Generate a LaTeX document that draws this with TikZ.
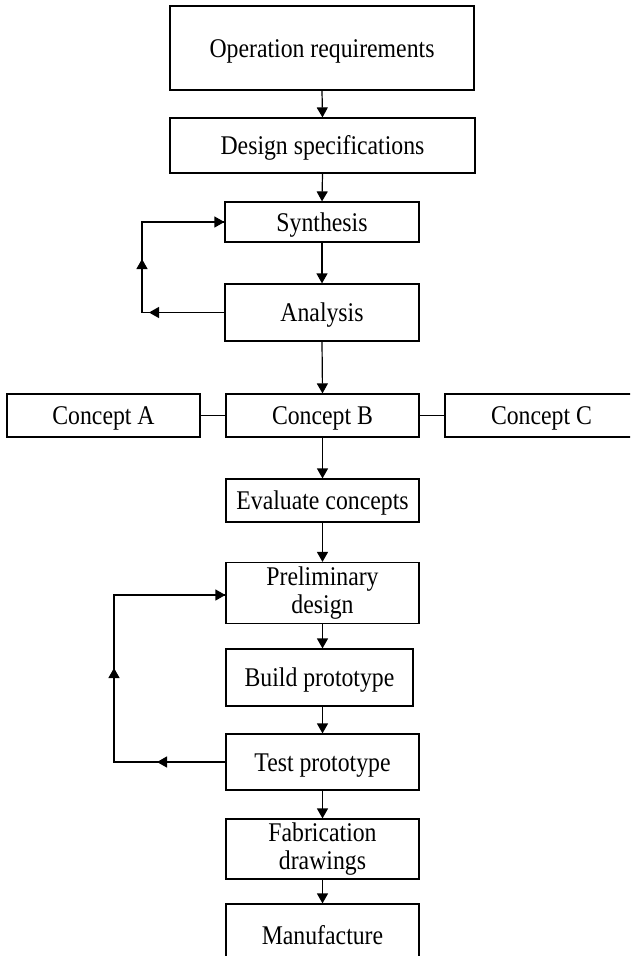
\documentclass[tikz,border=0pt]{standalone}
\usepackage{fontspec}
\setmainfont[FakeStretch=0.88]{Liberation Serif}
\usetikzlibrary{arrows.meta}
\begin{document}
\begin{tikzpicture}[x=1pt,y=-1pt,
  box/.style={draw, line width=1.2pt, inner sep=0pt, align=center, font=\fontsize{27}{28.5}\selectfont},
  one/.style={text height=18pt, text depth=0pt},
  arr/.style={line width=1.2pt, -{Triangle[length=10pt,width=11pt]}},
  ln/.style={line width=1.2pt}]
\useasboundingbox (0,0) rectangle (630,956);
\clip (0,0) rectangle (630,956);
% boxes
\node[box, one, minimum width=304pt, minimum height=84pt] (opreq) at (322,48) {Operation requirements};
\node[box, one, minimum width=305pt, minimum height=55pt] (spec) at (322.5,145.5) {Design specifications};
\node[box, one, minimum width=194pt, minimum height=40pt] (syn) at (322,222) {Synthesis};
\node[box, one, minimum width=194pt, minimum height=57pt] (ana) at (322,312.5) {Analysis};
\node[box, one, minimum width=193pt, minimum height=43pt] (conA) at (103.5,415.5) {Concept A};
\node[box, one, minimum width=193pt, minimum height=43pt] (conB) at (322.5,415.5) {Concept B};
\node[box, one, minimum width=193pt, minimum height=43pt] (conC) at (541.5,415.5) {Concept C};
\node[box, one, minimum width=193pt, minimum height=43pt] (eval) at (322.5,500.5) {Evaluate concepts};
\node[box, minimum width=193pt, minimum height=61pt] (prelim) at (322.5,593) {Preliminary\\design};
\node[box, one, minimum width=187pt, minimum height=57pt] (build) at (319.5,677.5) {Build prototype};
\node[box, one, minimum width=193pt, minimum height=56pt] (test) at (322.5,762) {Test prototype};
\node[box, minimum width=193pt, minimum height=60pt] (fab) at (322.5,849) {Fabrication\\drawings};
\node[box, one, minimum width=193pt, minimum height=62pt] (manu) at (322.5,935) {Manufacture};
% main flow
\draw[arr] (opreq.south) -- (spec.north);
\draw[arr] (spec.south) -- (syn.north);
\draw[arr] (syn.south) -- (ana.north);
\draw[arr] (ana.south) -- (conB.north);
\draw[ln] (conA.east) -- (conB.west);
\draw[ln] (conB.east) -- (conC.west);
\draw[arr] (conB.south) -- (eval.north);
\draw[arr] (eval.south) -- (prelim.north);
\draw[arr] (prelim.south) -- (prelim.south |- build.north);
\draw[arr] (build.south -| test.north) -- (test.north);
\draw[arr] (test.south) -- (fab.north);
\draw[arr] (fab.south) -- (manu.north);
% loop 1
\coordinate (l1b) at (142,312.5);
\coordinate (l1t) at (142,222);
\coordinate (l1a) at (149,312.5);
\coordinate (l1u) at (142,259);
\draw[ln] (ana.west) -- (l1b) -- (l1t) -- (syn.west);
\draw[arr] (ana.west) -- (l1a);
\draw[arr] (l1b) -- (l1u);
\draw[arr] (l1t) -- (syn.west);
% loop 2
\coordinate (l2b) at (114,762);
\coordinate (l2t) at (114,595);
\coordinate (l2a) at (157,762);
\coordinate (l2u) at (114,668);
\draw[ln] (test.west) -- (l2b) -- (l2t) -- (l2t -| prelim.west);
\draw[arr] (test.west) -- (l2a);
\draw[arr] (l2b) -- (l2u);
\draw[arr] (l2t) -- (l2t -| prelim.west);
\end{tikzpicture}
\end{document}
